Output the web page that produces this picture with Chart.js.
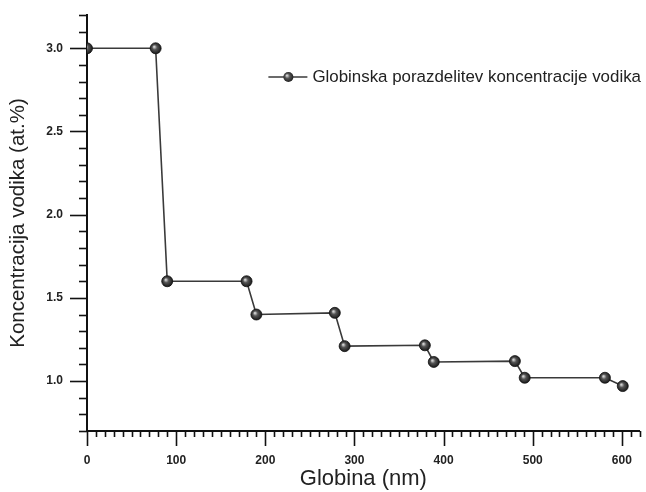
<!DOCTYPE html>
<html>
<head>
<meta charset="utf-8">
<script src="https://cdn.jsdelivr.net/npm/chart.js@4.4.1/dist/chart.umd.min.js"></script>
<style>
  body { margin: 0; background: #fff; }
  canvas { display: block; }
</style>
</head>
<body>
<canvas id="grafica" width="646" height="492"></canvas>
<script>
// globina (nm) in koncentracija vodika (at.%)
const globina = [0, 77, 90, 179, 190, 278, 289, 379, 389, 480, 491, 581, 601];
const vodik = [3.0, 3.0, 1.6, 1.6, 1.4, 1.41, 1.21, 1.215, 1.115, 1.12, 1.02, 1.02, 0.97];

const xOznake = [0, 100, 200, 300, 400, 500, 600];
const yOznake = [1.0, 1.5, 2.0, 2.5, 3.0];

const naslovSerije = 'Globinska porazdelitev koncentracije vodika';

const $grafica = document.querySelector('#grafica');
const pisava = '"Liberation Sans", Arial, sans-serif';

function gradient(ctx, px, py) {
    const g = ctx.createRadialGradient(px - 1.5, py - 1.5, 0.5, px, py, 6);
    g.addColorStop(0, '#d0d0d0');
    g.addColorStop(0.35, '#555');
    g.addColorStop(1, '#111');
    return g;
}

// kroglica: radialni gradient okoli tocke
function krogla(context) {
    const chart = context.chart;
    if (!context.parsed || !chart.scales.x) return '#333';
    const px = chart.scales.x.getPixelForValue(context.parsed.x);
    const py = chart.scales.y.getPixelForValue(context.parsed.y);
    if (!isFinite(px) || !isFinite(py)) return '#333';
    return gradient(chart.ctx, px, py);
}

// male in velike zareze na oseh (navzven)
const zareze = {
    id: 'zareze',
    afterDraw(chart) {
        const ctx = chart.ctx;
        const x = chart.scales.x, y = chart.scales.y;
        const a = chart.chartArea;
        ctx.save();
        ctx.strokeStyle = '#111';
        ctx.lineWidth = 1.6;
        for (let i = 0; i <= 62; i++) {
            const px = Math.round(x.getPixelForValue(i * 10)) + 0.5;
            const len = i % 10 === 0 ? 15 : 6;
            ctx.beginPath();
            ctx.moveTo(px, a.bottom);
            ctx.lineTo(px, a.bottom + len);
            ctx.stroke();
        }
        for (let i = 7; i <= 32; i++) {
            const py = Math.round(y.getPixelForValue(i / 10)) + 0.5;
            const len = i % 5 === 0 ? 17 : 8;
            ctx.beginPath();
            ctx.moveTo(a.left, py);
            ctx.lineTo(a.left - len, py);
            ctx.stroke();
        }
        ctx.restore();
    }
};

// legenda znotraj grafa
const legenda = {
    id: 'legenda',
    afterDraw(chart) {
        const ctx = chart.ctx;
        const ds = chart.data.datasets[0];
        ctx.save();
        ctx.font = '16.9px ' + pisava;
        ctx.fillStyle = '#222';
        ctx.textBaseline = 'middle';
        const w = ctx.measureText(ds.label).width;
        const tx = 641 - w, ty = 77;
        ctx.fillText(ds.label, tx, ty);
        ctx.strokeStyle = ds.borderColor;
        ctx.lineWidth = ds.borderWidth;
        ctx.beginPath();
        ctx.moveTo(tx - 44, ty);
        ctx.lineTo(tx - 5, ty);
        ctx.stroke();
        const cx = tx - 24;
        ctx.fillStyle = gradient(ctx, cx, ty);
        ctx.beginPath();
        ctx.arc(cx, ty, 5, 0, Math.PI * 2);
        ctx.fill();
        ctx.restore();
    }
};

const tickFont = { family: pisava, size: 12, weight: 'bold' };

new Chart($grafica, {
    type: 'line',
    data: {
        datasets: [{
            label: naslovSerije,
            data: globina.map((g, i) => ({ x: g, y: vodik[i] })),
            borderColor: '#3a3a3a',
            borderWidth: 1.6,
            pointRadius: 5.5,
            pointBorderWidth: 0.8,
            pointBorderColor: '#111',
            pointBackgroundColor: krogla,
            tension: 0,
        }]
    },
    options: {
        responsive: false,
        animation: false,
        layout: { padding: { top: 15, right: 0, bottom: 0, left: 0 } },
        plugins: { legend: { display: false }, tooltip: { enabled: false } },
        scales: {
            x: {
                type: 'linear',
                min: 0,
                max: 620,
                afterBuildTicks: s => { s.ticks = xOznake.map(v => ({ value: v })); },
                afterFit: s => { s.height = 61; s.paddingLeft = 0; s.paddingRight = 0; },
                ticks: { padding: 22, font: tickFont, color: '#222', maxRotation: 0, autoSkip: false },
                grid: { drawOnChartArea: false, drawTicks: false },
                border: { color: '#111', width: 2 },
                title: { display: true, text: 'Globina (nm)', font: { family: pisava, size: 22 }, color: '#222', padding: { top: 0, bottom: 0 } }
            },
            y: {
                type: 'linear',
                min: 0.7,
                max: 3.2,
                afterBuildTicks: s => { s.ticks = yOznake.map(v => ({ value: v })); },
                afterFit: s => { s.width = 87; s.paddingTop = 0; s.paddingBottom = 0; },
                ticks: { padding: 24, font: tickFont, color: '#222', callback: v => v.toFixed(1) },
                grid: { drawOnChartArea: false, drawTicks: false },
                border: { color: '#111', width: 2 },
                title: { display: true, text: 'Koncentracija vodika (at.%)', font: { family: pisava, size: 20.5 }, color: '#222', padding: { top: 6, bottom: 4 } }
            }
        }
    },
    plugins: [zareze, legenda]
});
</script>
</body>
</html>
